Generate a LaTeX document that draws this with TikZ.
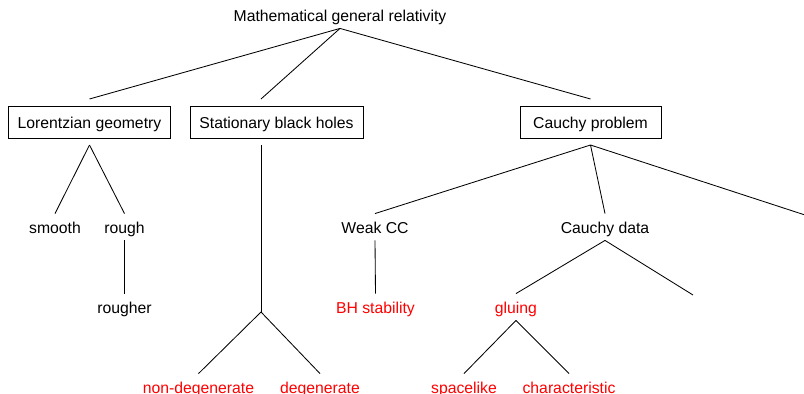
\documentclass[tikz,border=0pt]{standalone}
\usepackage{fontspec}
\setmainfont{Liberation Sans}
\usetikzlibrary{calc}
\begin{document}
\begin{tikzpicture}[x=0.025cm, y=-0.025cm, line width=0.6pt,
  font=\fontsize{11.2pt}{13pt}\selectfont,
  topic/.style={draw, minimum height=0.8cm, inner xsep=0.2375cm, outer sep=0.175cm,
    text height=9.6pt, text depth=0.8pt},
  leaf/.style={minimum height=0.65cm, inner sep=0pt, text height=9.8pt, text depth=0.6pt},
  open/.style={leaf, text=red}]

  \useasboundingbox (0,0) rectangle (804,394);
  \clip (0,0) rectangle (804,394);

  \def\ya{15} \def\yb{122} \def\yc{227} \def\yd{307} \def\ye{387}

  \node[leaf] (mgr) at (340,\ya) {Mathematical general relativity};

  \node[topic] (lor) at (89.5,\yb) {Lorentzian geometry};
  \node[topic] (sbh) at (276.5,\yb) {Stationary black holes};
  \node[topic, minimum width=3.525cm] (cp) at (590.5,\yb) {Cauchy problem};

  \node[leaf] (smooth) at (55,\yc) {smooth};
  \node[leaf] (rough) at (124.5,\yc) {rough};
  \node[leaf] (wcc) at (375,\yc) {Weak CC};
  \node[leaf] (cd) at (605,\yc) {Cauchy data};

  \node[leaf] (rougher) at (124.5,\yd) {rougher};
  \node[open] (bhs) at (375.5,\yd) {BH stability};
  \node[open] (gluing) at (516,\yd) {gluing};

  \node[open] (nondeg) at (198.5,\ye) {non-degenerate};
  \node[open] (deg) at (320,\ye) {degenerate};
  \node[open] (spacelike) at (464,\ye) {spacelike};
  \node[open] (charac) at (569,\ye) {characteristic};

  \coordinate (sbhin) at ($(sbh.north)+(-15.5,0)$);
  \coordinate (sbhout) at ($(sbh.south)+(-15.5,0)$);
  \coordinate (sbhfork) at (261,312);
  \coordinate (cpr) at (805,215);
  \coordinate (cdr) at (693,295);

  \foreach \a/\b in {mgr/lor, mgr/cp, lor/smooth, lor/rough, rough/rougher,
    cp/wcc, cp/cd, wcc/bhs, cd/gluing, gluing/spacelike, gluing/charac}
    \draw (\a.south) -- (\b.north);

  \draw (mgr.south) -- (sbhin);
  \draw (sbhout) -- (sbhfork);
  \draw (sbhfork) -- (nondeg.north);
  \draw (sbhfork) -- (deg.north);
  \draw (cp.south) -- (cpr);
  \draw (cd.south) -- (cdr);

\end{tikzpicture}
\end{document}
